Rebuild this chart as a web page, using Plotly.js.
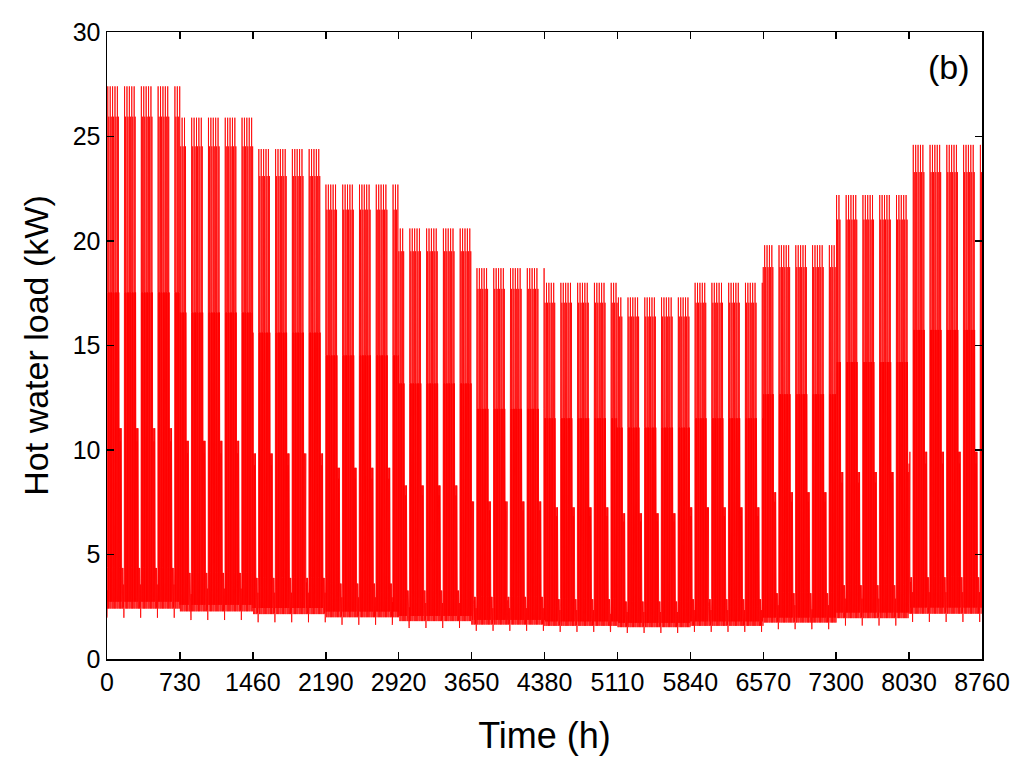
<!DOCTYPE html>
<html>
<head>
<meta charset="utf-8">
<script src="https://cdn.plot.ly/plotly-3.0.1.min.js"></script>
<style>html,body{margin:0;padding:0;background:#fff;}#chart{width:1024px;height:768px;}</style>
</head>
<body>
<div id="chart"></div>
<script>
// Monthly peak hot water load (kW) (each month = 730 h)
var monthlyPeak = [27.4, 25.9, 24.4, 22.7, 20.6, 18.7, 18.0, 17.3, 18.0, 19.8, 22.2, 24.6];
// Hourly profiles (hours 0..23) as fraction of the month's peak
var mondayProfile   = [0.072, 0.072, 0.075, 0.120, 0.088, 0.160, 0.640, 0.120, 1.000, 0.140, 0.825, 0.100,
                       0.682, 0.140, 0.640, 0.088, 0.682, 0.140, 0.947, 0.120, 0.774, 0.100, 0.640, 0.140];
var weekdayProfile  = [0.100, 0.140, 0.088, 0.120, 0.088, 0.160, 0.640, 0.120, 1.000, 0.140, 0.825, 0.100,
                       0.682, 0.140, 0.640, 0.088, 0.682, 0.140, 0.947, 0.120, 0.774, 0.100, 0.640, 0.140];
var saturdayProfile = [0.100, 0.140, 0.088, 0.120, 0.088, 0.160, 0.403, 0.120, 0.403, 0.140, 0.380, 0.100,
                       0.403, 0.140, 0.380, 0.088, 0.403, 0.140, 0.403, 0.120, 0.380, 0.100, 0.403, 0.140];
var sundayProfile   = [0.100, 0.140, 0.088, 0.120, 0.088, 0.150, 0.100, 0.159, 0.110, 0.150, 0.090, 0.159,
                       0.110, 0.140, 0.088, 0.159, 0.100, 0.140, 0.090, 0.159, 0.110, 0.150, 0.100, 0.130];
var weekDays = [mondayProfile, weekdayProfile, weekdayProfile, weekdayProfile, weekdayProfile, saturdayProfile, sundayProfile];
var hoursPerMonth = 730;
var xTickVals = [0, 730, 1460, 2190, 2920, 3650, 4380, 5110, 5840, 6570, 7300, 8030, 8760];
var yTickVals = [0, 5, 10, 15, 20, 25, 30];

var hours = [], load = [];
for (var h = 0; h < 8760; h++) {
  var m = Math.min(11, Math.floor(h / hoursPerMonth));
  var prof = weekDays[Math.floor(h / 24) % 7];
  hours.push(h);
  load.push(monthlyPeak[m] * prof[h % 24]);
}

var trace = {
  x: hours, y: load, type: 'scatter', mode: 'lines',
  line: {color: '#ff0000', width: 0.8},
  hoverinfo: 'skip'
};

var axisCommon = {
  showline: true, linecolor: '#000', linewidth: 1.5, mirror: 'ticks',
  ticks: 'inside', ticklen: 7, tickwidth: 1.5, tickcolor: '#000',
  showgrid: false, zeroline: false
};

var layout = {
  width: 1024, height: 768,
  margin: {l: 107, r: 42, t: 32, b: 109},
  paper_bgcolor: '#fff', plot_bgcolor: '#fff',
  showlegend: false,
  xaxis: Object.assign({}, axisCommon, {
    range: [0, 8760], tickmode: 'array', tickvals: xTickVals,
    ticktext: xTickVals.map(String),
    tickfont: {family: 'Liberation Sans, Arial, sans-serif', size: 25, color: '#000'},
    title: {text: 'Time (h)', font: {family: 'Liberation Sans, Arial, sans-serif', size: 36, color: '#000'}, standoff: 28}
  }),
  yaxis: Object.assign({}, axisCommon, {
    range: [0, 30], tickmode: 'array', tickvals: yTickVals,
    tickfont: {family: 'Liberation Sans, Arial, sans-serif', size: 25, color: '#000'},
    title: {text: 'Hot water load (kW)', font: {family: 'Liberation Sans, Arial, sans-serif', size: 34, color: '#000'}, standoff: 14}
  }),
  annotations: [{
    text: '(b)', xref: 'paper', yref: 'paper', x: 0.988, y: 0.978,
    xanchor: 'right', yanchor: 'top', showarrow: false,
    font: {family: 'Liberation Sans, Arial, sans-serif', size: 34, color: '#000'}
  }]
};

Plotly.newPlot('chart', [trace], layout, {staticPlot: true, displayModeBar: false});
</script>
</body>
</html>
